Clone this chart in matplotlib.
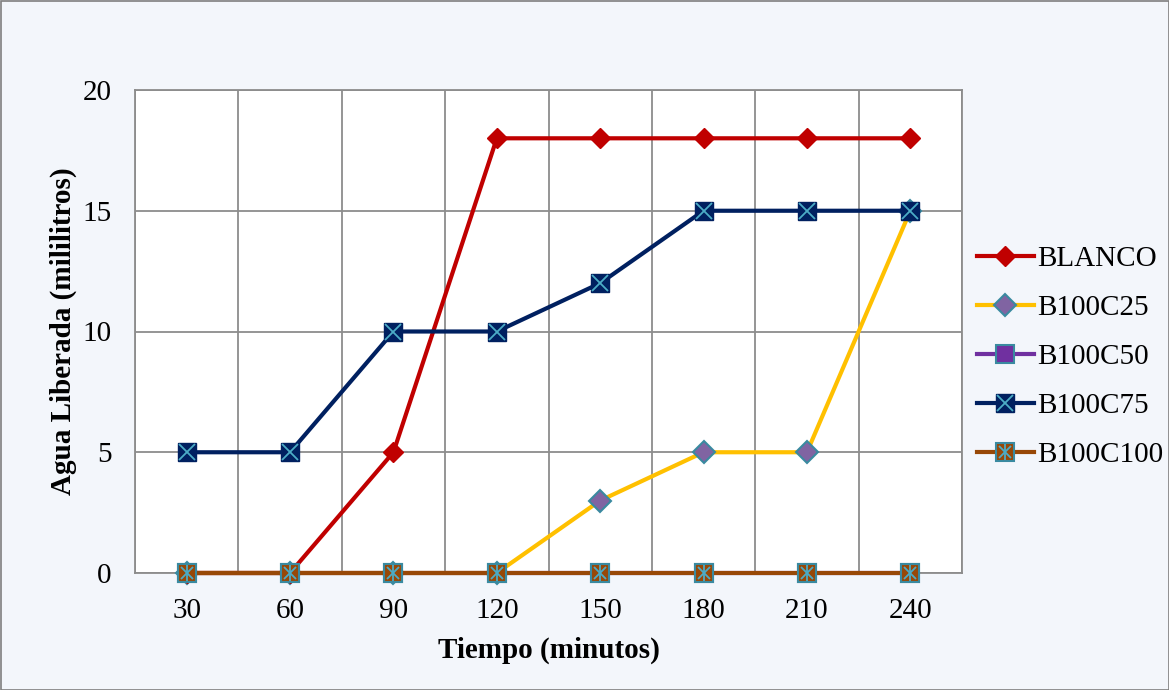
import matplotlib.pyplot as plt
from matplotlib.lines import Line2D
from matplotlib.patches import Rectangle

plt.rcParams['font.family'] = ['Liberation Serif', 'DejaVu Serif']

tiempo = ['30', '60', '90', '120', '150', '180', '210', '240']
blanco = [0, 0, 5, 18, 18, 18, 18, 18]
b100c25 = [0, 0, 0, 0, 3, 5, 5, 15]
b100c50 = [0, 0, 0, 0, 0, 0, 0, 0]
b100c75 = [5, 5, 10, 10, 12, 15, 15, 15]
b100c100 = [0, 0, 0, 0, 0, 0, 0, 0]

fig = plt.figure(figsize=(11.69, 6.9), dpi=100, facecolor='#F3F6FB')
ax = fig.add_axes([135 / 1169, 1 - 573 / 690, (962 - 135) / 1169, (573 - 90) / 690])
ax.set_facecolor('white')

x = list(range(len(tiempo)))
lw = 3.0
ms = 13.5
edge = '#3A8AA0'
cyan = '#4BACC6'

# estilos de cada serie (linea + marcador, y las cruces encima)
st_blanco = dict(color='#C00000', lw=lw, marker='D', ms=10.5, mfc='#C00000', mec='#C00000')
st_c25 = dict(color='#FFC000', lw=lw, marker='D', ms=11, mfc='#8064A2', mec=edge, mew=1.5)
st_c50 = dict(color='#7030A0', lw=lw, marker='s', ms=ms, mfc='#7030A0', mec=edge, mew=1.5)
st_c75 = dict(color='#002060', lw=lw, marker='s', ms=ms, mfc='#002060', mec='#002060')
st_c75x = dict(ls='none', marker='x', ms=ms - 1.5, mec=cyan, mew=1.3)
st_c100 = dict(color='#984807', lw=lw, marker='s', ms=ms, mfc='#984807', mec=edge, mew=1.5)
st_c100x = dict(ls='none', marker='x', ms=ms - 5, mec=cyan, mew=1.3)
st_c100v = dict(ls='none', marker='|', ms=ms - 2.5, mec=cyan, mew=1.3)

ax.plot(x, blanco, zorder=4, clip_on=False, **st_blanco)
ax.plot(x, b100c25, zorder=3, clip_on=False, **st_c25)
ax.plot(x, b100c50, zorder=3, clip_on=False, **st_c50)
ax.plot(x, b100c75, zorder=5, clip_on=False, **st_c75)
ax.plot(x, b100c75, zorder=6, clip_on=False, **st_c75x)
ax.plot(x, b100c100, zorder=5, clip_on=False, **st_c100)
ax.plot(x, b100c100, zorder=6, clip_on=False, **st_c100x)
ax.plot(x, b100c100, zorder=6, clip_on=False, **st_c100v)

ax.set_xlim(-0.5, len(tiempo) - 0.5)
ax.set_ylim(0, 20)
ax.set_xticks(x)
ax.set_xticklabels(tiempo)
ax.set_yticks([0, 5, 10, 15, 20])
ax.set_xticks([i - 0.5 for i in range(len(tiempo) + 1)], minor=True)
ax.grid(True, which='minor', axis='x', color='#8C8C8C', lw=1.3)
ax.grid(True, which='major', axis='y', color='#8C8C8C', lw=1.3)
ax.tick_params(axis='both', which='both', length=0, labelsize=21)
ax.tick_params(axis='x', pad=18)
ax.tick_params(axis='y', pad=17)
for s in ax.spines.values():
    s.set_color('#8C8C8C')
    s.set_linewidth(1.3)

ax.set_xlabel('Tiempo (minutos)', fontsize=21, fontweight='bold', labelpad=9)
ax.set_ylabel('Agua Liberada (mililitros)', fontsize=21, fontweight='bold', labelpad=4)

handles = [
    Line2D([], [], **st_blanco),
    Line2D([], [], **st_c25),
    Line2D([], [], **st_c50),
    (Line2D([], [], **st_c75), Line2D([], [], **st_c75x)),
    (Line2D([], [], **st_c100), Line2D([], [], **st_c100x), Line2D([], [], **st_c100v)),
]
labels = ['BLANCO', 'B100C25', 'B100C50', 'B100C75', 'B100C100']
fig.legend(handles, labels, loc='center left', bbox_to_anchor=(977 / 1169, 1 - 357 / 690),
           frameon=False, fontsize=21, handlelength=1.95, handletextpad=0.1,
           labelspacing=0.77, borderaxespad=0, borderpad=0)

fig.patches.append(Rectangle((0.5 / 1169, 0.5 / 690), 1 - 1 / 1169, 1 - 1 / 690,
                             transform=fig.transFigure, fill=False,
                             edgecolor='#7F7F7F', lw=1.2))

fig.savefig('out.png', dpi=100, facecolor=fig.get_facecolor())
